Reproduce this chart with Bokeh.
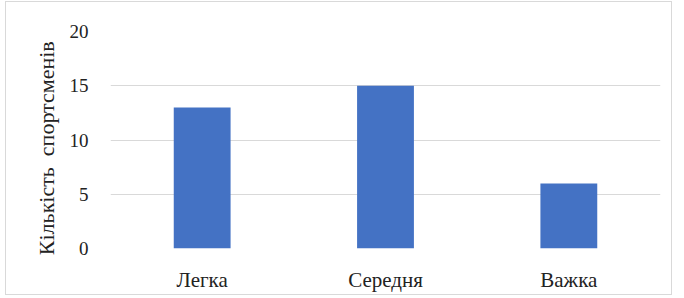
from bokeh.plotting import figure
from bokeh.models import Range1d, FixedTicker
from bokeh.embed import file_html
from bokeh.resources import INLINE

categories = ["Легка", "Середня", "Важка"]
counts = [13, 15, 6]
y_ticks = [0, 5, 10, 15, 20]
y_title = "Кількість\u00a0 спортсменів" + "\u00a0" * 3

FONT = "Times New Roman"

p = figure(x_range=categories, y_range=Range1d(0, 20),
           frame_width=550, frame_height=217,
           min_border_left=104, min_border_right=11, min_border_top=29, min_border_bottom=35,
           output_backend="svg", toolbar_location=None)
p.margin = (1, 0, 0, 5)
p.styles = {"border": "1px solid #d9d9d9"}

p.vbar(x=categories, top=counts, width=0.31, color="#4472C4", line_color=None)

p.outline_line_color = None
p.xgrid.grid_line_color = None
p.ygrid.grid_line_color = "#d9d9d9"
p.yaxis.ticker = FixedTicker(ticks=y_ticks)

for ax in (p.xaxis, p.yaxis):
    ax.axis_line_color = None
    ax.major_tick_line_color = None
    ax.minor_tick_line_color = None
    ax.major_label_text_color = "#222222"
    ax.major_label_text_font = FONT

p.xaxis.major_label_text_font_size = "21px"
p.yaxis.major_label_text_font_size = "19px"
p.yaxis.major_label_standoff = 16
p.xaxis.major_label_standoff = 13
p.yaxis.axis_label = y_title
p.yaxis.axis_label_text_font = FONT
p.yaxis.axis_label_text_font_style = "normal"
p.yaxis.axis_label_text_font_size = "22px"
p.yaxis.axis_label_text_color = "#222222"
p.yaxis.axis_label_standoff = 8

open("out.html", "w").write(file_html(p, INLINE))
